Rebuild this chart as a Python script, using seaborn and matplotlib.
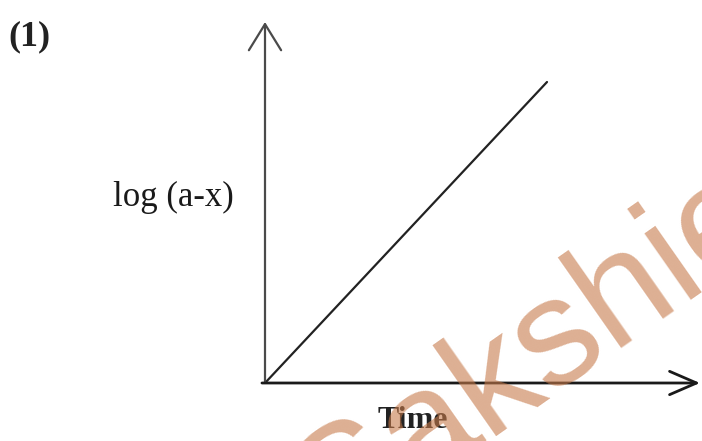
import matplotlib
matplotlib.use("Agg")
import matplotlib.pyplot as plt
import seaborn as sns

# first-order plot: log(a-x) rising linearly with time (schematic, no ticks)
time = [0.0, 10.0]
log_a_minus_x = [0.0, 10.0]

LABEL_NUM = "(1)"
Y_LABEL = "log (a-x)"
X_LABEL = "Time"
WATERMARK = "Sakshieducation"

sns.set_theme(style="white")
plt.rcParams["font.family"] = ["Liberation Serif", "DejaVu Serif"]

W, H = 702, 441
fig = plt.figure(figsize=(W / 100, H / 100), dpi=100)
fig.patch.set_facecolor("white")

# axes placed so origin sits at the corner of the drawn arrows
ax = fig.add_axes([265 / W, (H - 383) / H, (700 - 265) / W, (383 - 22) / H])
ax.set_xlim(0, 10 * 435 / 282)
ax.set_ylim(0, 10 * 361 / 301)
ax.set_axis_off()

sns.lineplot(x=time, y=log_a_minus_x, ax=ax, color="#222222", linewidth=1.6)

# axis arrows
ax.annotate("", xy=(0, 1), xytext=(0, 0), xycoords="axes fraction",
            arrowprops=dict(arrowstyle="->,head_length=0.94,head_width=0.58",
                            mutation_scale=20, color="#4a4a4a", lw=1.6,
                            shrinkA=0, shrinkB=0))
ax.annotate("", xy=(1, 0), xytext=(-0.007, 0), xycoords="axes fraction",
            arrowprops=dict(arrowstyle="->,head_length=0.97,head_width=0.42",
                            mutation_scale=20, color="#1a1a1a", lw=2.0,
                            shrinkA=0, shrinkB=0))

fig.text(8 / W, (H - 37) / H, LABEL_NUM, fontsize=26, fontweight="bold",
         ha="left", va="center", color="#222222")
fig.text(173 / W, (H - 197) / H, Y_LABEL, fontsize=25,
         ha="center", va="center", color="#1a1a1a")
fig.text(413 / W, (H - 428) / H, X_LABEL, fontsize=23, fontweight="bold",
         ha="center", va="baseline", color="#222222")

# scanned-page watermark
fig.text(0.474, -0.232, WATERMARK, fontsize=110, family="Liberation Sans",
         rotation=35, rotation_mode="anchor", ha="left", va="baseline",
         color="#c77a4a", alpha=0.6, zorder=10)

fig.savefig("out.png", dpi=100)
